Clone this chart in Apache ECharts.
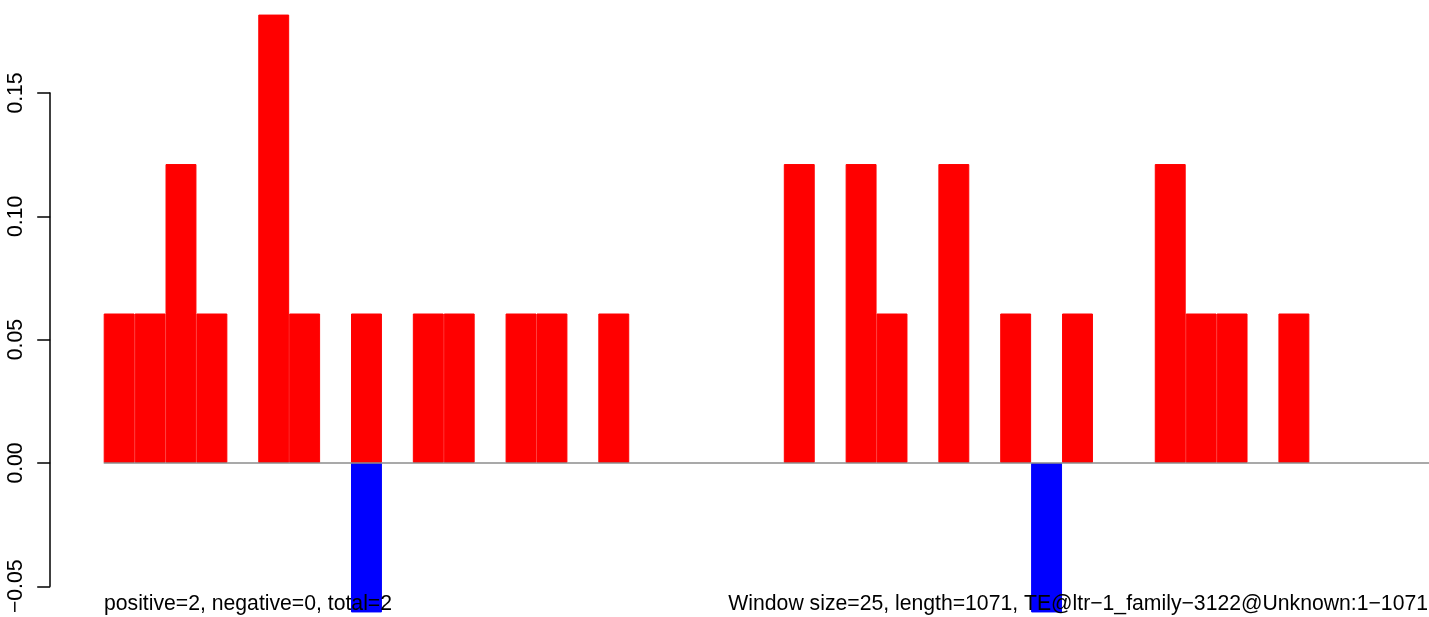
<!DOCTYPE html>
<html>
<head>
<meta charset="utf-8">
<script src="https://cdn.jsdelivr.net/npm/echarts@6/dist/echarts.min.js"></script>
<style>
html,body{margin:0;padding:0;background:#fff;overflow:hidden;width:1429px;height:617px;}
#chart{width:1433px;height:617px;}
</style>
</head>
<body>
<div id="chart"></div>
<script>
// Window indices (43 windows of size 25 over length 1071)
const categories = Array.from({length: 43}, (_, i) => String(i + 1));
// Positive-strand density per window
const positiveValues = [
  0.0606, 0.0606, 0.1212, 0.0606, 0, 0.1818, 0.0606, 0, 0.0606, 0,
  0.0606, 0.0606, 0, 0.0606, 0.0606, 0, 0.0606, 0, 0, 0,
  0, 0, 0.1212, 0, 0.1212, 0.0606, 0, 0.1212, 0, 0.0606,
  0, 0.0606, 0, 0, 0.1212, 0.0606, 0.0606, 0, 0.0606, 0,
  0, 0, 0
];
// Negative-strand density per window
const negativeValues = [
  0, 0, 0, 0, 0, 0, 0, 0, -0.0606, 0,
  0, 0, 0, 0, 0, 0, 0, 0, 0, 0,
  0, 0, 0, 0, 0, 0, 0, 0, 0, 0,
  -0.0606, 0, 0, 0, 0, 0, 0, 0, 0, 0,
  0, 0, 0
];
const yTicks = [-0.05, 0.00, 0.05, 0.10, 0.15];
const leftNote = 'positive=2, negative=0, total=2';
const rightNote = 'Window size=25, length=1071, TE@ltr\u22121_family\u22123122@Unknown:1\u22121071';

// empty windows draw no bar
const asBars = arr => arr.map(v => (v === 0 ? '-' : v));

const FONT = '"Liberation Sans", Arial, Helvetica, sans-serif';
const chart = echarts.init(document.getElementById('chart'), null, {renderer: 'canvas'});
chart.setOption({
  animation: false,
  backgroundColor: '#ffffff',
  grid: {left: 103.7, right: 0, top: 93, height: 493.3, containLabel: false},
  xAxis: {
    type: 'category', data: categories, boundaryGap: true,
    show: false
  },
  yAxis: {
    type: 'value',
    min: yTicks[0], max: yTicks[yTicks.length - 1], interval: 0.05,
    offset: 53.5,
    axisLine: {show: true, lineStyle: {color: '#000', width: 1.5}},
    axisTick: {show: true, length: 13, lineStyle: {color: '#000', width: 1.5}},
    splitLine: {show: false},
    axisLabel: {
      rotate: 90, margin: 24, color: '#000', fontSize: 21.2, fontFamily: FONT,
      formatter: v => v.toFixed(2).replace('-', '\u2212')
    }
  },
  series: [
    {
      type: 'bar', name: 'positive', data: asBars(positiveValues),
      barWidth: '100%', barGap: '-100%', clip: false,
      itemStyle: {color: '#ff0000', borderColor: '#ff0000', borderWidth: 1},
      markLine: {
        silent: true, symbol: 'none', label: {show: false},
        lineStyle: {color: '#8c8c8c', width: 1.5, type: 'solid'},
        data: [{yAxis: 0}]
      }
    },
    {
      type: 'bar', name: 'negative', data: asBars(negativeValues),
      barWidth: '100%', barGap: '-100%', clip: false,
      itemStyle: {color: '#0000ff', borderColor: '#0000ff', borderWidth: 1}
    }
  ],
  graphic: [
    {type: 'text', z: 100, x: 104, y: 604,
     style: {text: leftNote, fill: '#000', font: '21.2px ' + FONT, align: 'left', verticalAlign: 'middle'}},
    {type: 'text', z: 100, x: 1428, y: 604,
     style: {text: rightNote, fill: '#000', font: '21.2px ' + FONT, align: 'right', verticalAlign: 'middle'}}
  ]
});
</script>
</body>
</html>
